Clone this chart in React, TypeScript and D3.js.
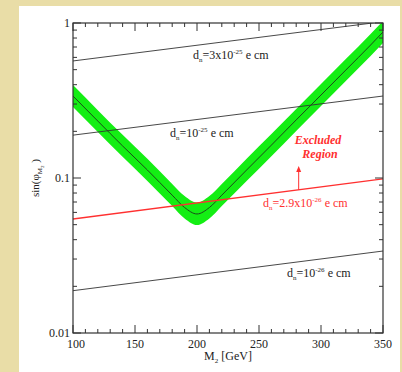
import React from "react";
import * as d3 from "d3";

// green band (allowed region), sampled along M2
const bandM2 = [100, 120, 140, 160, 180, 190, 200, 210, 220, 240, 260, 280, 300, 320, 340, 350];
const bandCenter = [0.338, 0.233, 0.161, 0.1126, 0.0775, 0.0645, 0.0586, 0.0645, 0.0775, 0.1126, 0.163, 0.237, 0.343, 0.497, 0.721, 0.875];
const bandUpper = [0.398, 0.274, 0.19, 0.133, 0.0915, 0.0765, 0.0695, 0.0765, 0.0915, 0.133, 0.192, 0.279, 0.404, 0.585, 0.849, 1.03];
const bandLower = [0.287, 0.198, 0.137, 0.0956, 0.066, 0.0548, 0.0497, 0.0548, 0.066, 0.0956, 0.138, 0.201, 0.291, 0.422, 0.612, 0.743];

// EDM contours
const edmM2 = [100, 350];
const dn3e25 = [0.569, 1.02];
const dn1e25 = [0.189, 0.338];
const dn29e26 = [0.0544, 0.0986];
const dn1e26 = [0.01875, 0.0338];

const xTicks = [100, 150, 200, 250, 300, 350];
const yTicks = [0.01, 0.1, 1];
const yTickLabels = ["0.01", "0.1", "1"];

const W = 402;
const H = 372;
const m = { left: 73, right: 383, top: 23, bottom: 333 };
const font = "'Liberation Serif', 'Times New Roman', serif";

function DnLabel({ x, y, pre, exp, color }: { x: number; y: number; pre: string; exp: string; color: string }) {
  return (
    <text x={x} y={y} fill={color} fontFamily={font} fontSize={12}>
      d
      <tspan fontSize={7} dy={3}>n</tspan>
      <tspan dy={-3}>{"=" + pre}</tspan>
      <tspan fontSize={7} dy={-5}>{exp}</tspan>
      <tspan dy={5}>{" e cm"}</tspan>
    </text>
  );
}

export default function App() {
  const x = d3.scaleLinear().domain([100, 350]).range([m.left, m.right]);
  const y = d3.scaleLog().domain([0.01, 1]).range([m.bottom, m.top]);

  const xMinor = d3.range(100, 351, 10).filter((v) => !xTicks.includes(v));
  const yMinor: number[] = [];
  [0.01, 0.1].forEach((dec) => {
    for (let k = 2; k <= 9; k++) yMinor.push(k * dec);
  });

  const area = d3
    .area<number>()
    .x((_, i) => x(bandM2[i]))
    .y0((_, i) => y(bandLower[i]))
    .y1((_, i) => y(bandUpper[i]))
    .curve(d3.curveMonotoneX);
  const center = d3
    .line<number>()
    .x((_, i) => x(bandM2[i]))
    .y((d) => y(d))
    .curve(d3.curveMonotoneX);
  const edm = d3
    .line<number>()
    .x((_, i) => x(edmM2[i]))
    .y((d) => y(d));

  // arrow marking the excluded side of the red contour
  const arrowM2 = 282;
  const t = (arrowM2 - edmM2[0]) / (edmM2[1] - edmM2[0]);
  const arrowFoot = y(dn29e26[0]) + t * (y(dn29e26[1]) - y(dn29e26[0]));
  const ax = x(arrowM2);

  const majorLen = 8;
  const minorLen = 4;

  return (
    <svg width={W} height={H} style={{ position: "absolute", left: 0, top: 0 }}>
      <rect width={W} height={H} fill="#e9dda7" />
      <rect x={19} y={6} width={381} height={H - 6} fill="#ffffff" />
      <defs>
        <clipPath id="plot">
          <rect x={m.left} y={m.top} width={m.right - m.left} height={m.bottom - m.top} />
        </clipPath>
      </defs>

      <g clipPath="url(#plot)">
        <path d={area(bandCenter) || ""} fill="#14ee14" />
        <path d={center(bandCenter) || ""} fill="none" stroke="#1a4a1a" strokeWidth={1} />
        {[dn3e25, dn1e25, dn1e26].map((s, i) => (
          <path key={i} d={edm(s) || ""} fill="none" stroke="#333" strokeWidth={0.9} />
        ))}
        <path d={edm(dn29e26) || ""} fill="none" stroke="#ff3030" strokeWidth={1.3} />
      </g>

      {/* frame */}
      <rect x={m.left} y={m.top} width={m.right - m.left} height={m.bottom - m.top} fill="none" stroke="#333" strokeWidth={1.2} />

      {/* x ticks, bottom and top */}
      {xTicks.map((v) => (
        <g key={"xm" + v} stroke="#333" strokeWidth={1}>
          <line x1={x(v)} x2={x(v)} y1={m.bottom} y2={m.bottom - majorLen} />
          <line x1={x(v)} x2={x(v)} y1={m.top} y2={m.top + majorLen} />
        </g>
      ))}
      {xMinor.map((v) => (
        <g key={"xn" + v} stroke="#333" strokeWidth={1}>
          <line x1={x(v)} x2={x(v)} y1={m.bottom} y2={m.bottom - minorLen} />
          <line x1={x(v)} x2={x(v)} y1={m.top} y2={m.top + minorLen} />
        </g>
      ))}
      {/* y ticks, left and right */}
      {yTicks.map((v) => (
        <g key={"ym" + v} stroke="#333" strokeWidth={1}>
          <line x1={m.left} x2={m.left + majorLen} y1={y(v)} y2={y(v)} />
          <line x1={m.right} x2={m.right - majorLen} y1={y(v)} y2={y(v)} />
        </g>
      ))}
      {yMinor.map((v) => (
        <g key={"yn" + v} stroke="#333" strokeWidth={1}>
          <line x1={m.left} x2={m.left + minorLen} y1={y(v)} y2={y(v)} />
          <line x1={m.right} x2={m.right - minorLen} y1={y(v)} y2={y(v)} />
        </g>
      ))}

      {/* tick labels */}
      {xTicks.map((v, i) => (
        <text key={"xl" + v} x={x(v) + (i === 0 ? 3 : 0)} y={348} textAnchor="middle" fontFamily={font} fontSize={12} fill="#222">
          {v}
        </text>
      ))}
      {yTicks.map((v, i) => (
        <text key={"yl" + v} x={m.left - 3} y={y(v) + 4} textAnchor="end" fontFamily={font} fontSize={12} fill="#222">
          {yTickLabels[i]}
        </text>
      ))}

      {/* axis titles */}
      <text x={(m.left + m.right) / 2} y={360} textAnchor="middle" fontFamily={font} fontSize={12} fill="#222">
        M<tspan fontSize={7} dy={3}>2</tspan>
        <tspan dy={-3}> [GeV]</tspan>
      </text>
      <text transform={`translate(39,${y(0.1)}) rotate(-90)`} textAnchor="middle" fontFamily={font} fontSize={11} fill="#222">
        sin(φ<tspan fontSize={7} dy={3}>M</tspan>
        <tspan fontSize={5} dy={2}>2</tspan>
        <tspan dy={-5}> )</tspan>
      </text>

      {/* contour labels */}
      <DnLabel x={193} y={59} pre="3x10" exp="-25" color="#222" />
      <DnLabel x={170} y={137} pre="10" exp="-25" color="#222" />
      <DnLabel x={263} y={207} pre="2.9x10" exp="-26" color="#ff3030" />
      <DnLabel x={287} y={277} pre="10" exp="-26" color="#222" />

      <text x={318} y={144} textAnchor="middle" fontFamily={font} fontSize={12} fontWeight="bold" fontStyle="italic" fill="#ff3030">
        Excluded
      </text>
      <text x={320} y={158} textAnchor="middle" fontFamily={font} fontSize={12} fontWeight="bold" fontStyle="italic" fill="#ff3030">
        Region
      </text>
      <line x1={ax} x2={ax} y1={arrowFoot} y2={170} stroke="#ff3030" strokeWidth={1} />
      <path d={`M${ax},166 L${ax - 2.5},172 L${ax + 2.5},172 Z`} fill="#ff3030" />
    </svg>
  );
}
